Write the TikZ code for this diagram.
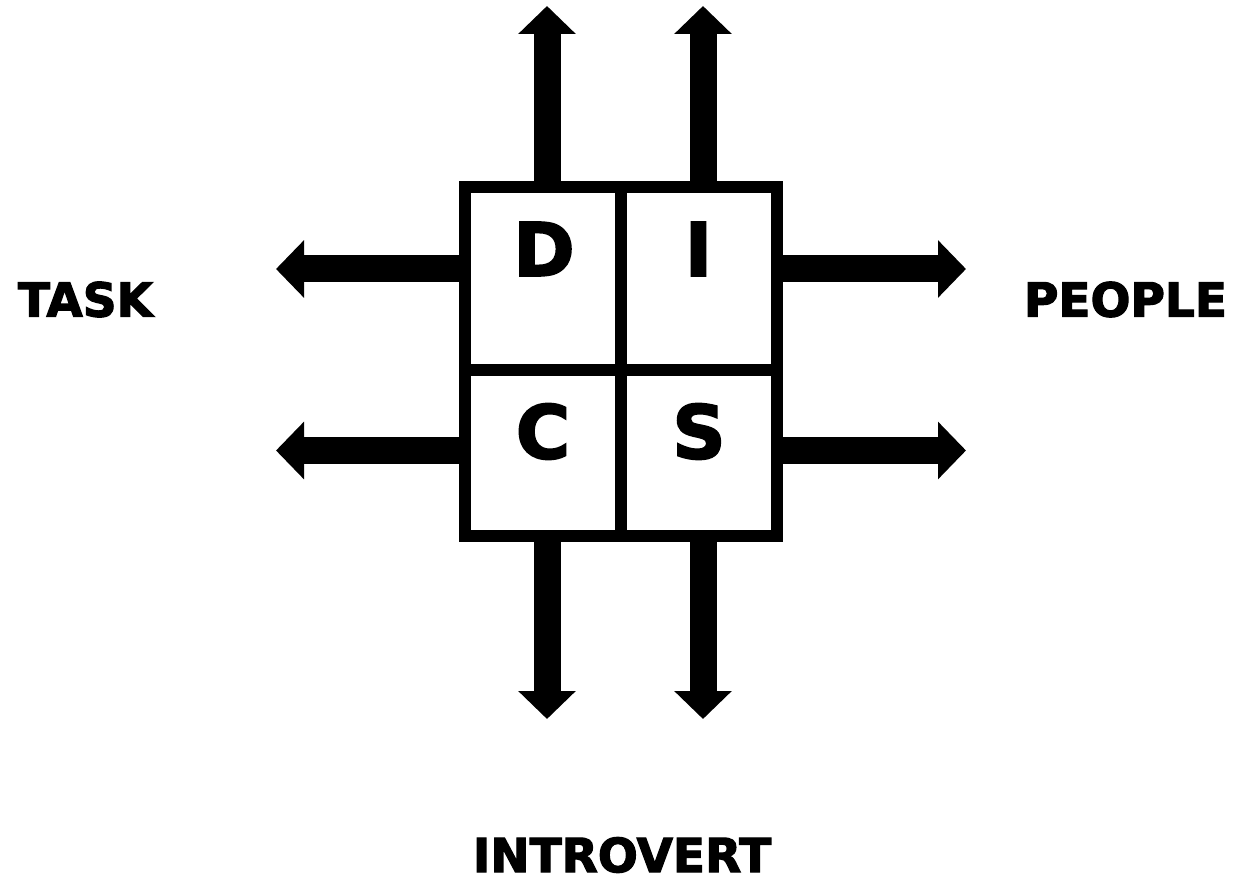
\documentclass[tikz,border=0pt]{standalone}
\usepackage{fontspec}
\newfontfamily\discfont{DejaVu Sans Bold}[FakeBold=2.5]
\usepackage{tikz}
\usetikzlibrary{arrows.meta}
\usetikzlibrary{positioning}

\begin{document}
\begin{tikzpicture}
      [x=1pt, y=-1pt,
       grid line/.style={line width=12pt},
       fat arrow/.style={line width=27pt, -{Triangle[width=56pt, length=28pt]}},
       letter/.style={font=\discfont\fontsize{74}{74}\selectfont, inner sep=0pt},
       side label/.style={font=\discfont\fontsize{47}{47}\selectfont, inner sep=0pt}]
      \useasboundingbox (0, 0) rectangle (1243, 882);

      \node (grid) [draw, grid line, rectangle, minimum width=312pt, minimum height=349pt,
                    inner sep=0pt, outer sep=0pt] at (621, 361.5) {};
      \coordinate (mid west) at (465, 370);
      \coordinate (mid east) at (777, 370);
      \draw [grid line] (grid.north) -- (grid.south);
      \draw [grid line] (mid west) -- (mid east);

      \node (d) [letter] at (544, 249) {D};
      \node (i) [letter] at (698.5, 249) {I};
      \node (c) [letter] at (543, 431.5) {C};
      \node (s) [letter] at (699, 431.5) {S};

      \node (task) [side label] at (85.5, 299.5) {TASK};
      \node (people) [side label] at (1125.5, 299.5) {PEOPLE};
      \node (introvert) [side label] at (622, 855) {INTROVERT};

      % arrow ends
      \coordinate (up 1) at (547, 6);
      \coordinate (up 2) at (703, 6);
      \coordinate (down 1) at (547, 719);
      \coordinate (down 2) at (703, 719);
      \coordinate (left 1) at (276, 269);
      \coordinate (left 2) at (276, 450.5);
      \coordinate (right 1) at (966, 269);
      \coordinate (right 2) at (966, 450.5);

      \draw [fat arrow] (grid.north -| up 1) -- (up 1);
      \draw [fat arrow] (grid.north -| up 2) -- (up 2);
      \draw [fat arrow] (grid.south -| down 1) -- (down 1);
      \draw [fat arrow] (grid.south -| down 2) -- (down 2);
      \draw [fat arrow] (grid.west |- left 1) -- (left 1);
      \draw [fat arrow] (grid.west |- left 2) -- (left 2);
      \draw [fat arrow] (grid.east |- right 1) -- (right 1);
      \draw [fat arrow] (grid.east |- right 2) -- (right 2);

    \end{tikzpicture}
\end{document}
